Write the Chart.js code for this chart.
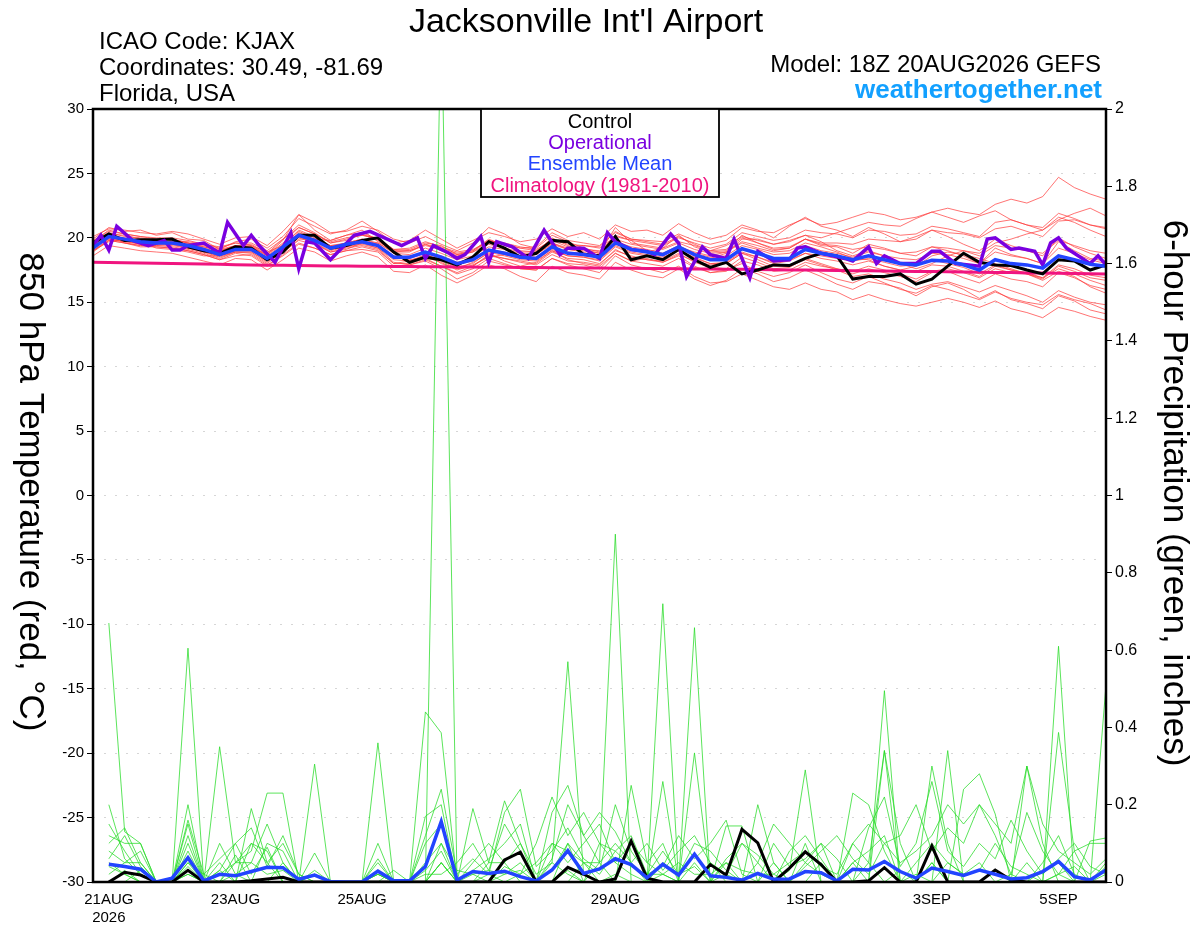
<!DOCTYPE html>
<html><head><meta charset="utf-8">
<script src="https://cdn.jsdelivr.net/npm/chart.js@4.4.1/dist/chart.umd.min.js"></script>
<style>html,body{margin:0;padding:0;background:#fff;}#wrap{width:1200px;height:927px;position:relative;}</style>
</head><body><div id="wrap"><canvas id="c"></canvas></div>
<script>
// x positions are 6-hour steps from 18Z 20AUG2026 (index 0) to 18Z 05SEP2026 (index 64)
const dayTickSteps = [1, 9, 17, 25, 33, 45, 53, 61];
const dayTickLabels = [['21AUG','2026'], '23AUG', '25AUG', '27AUG', '29AUG', '1SEP', '3SEP', '5SEP'];

// Control (black) 850 hPa temperature
const controlTemp = [19.6,20.3,19.8,19.85,19.85, 19.9,19.3,19.0,18.8,19.3, 19.2,18.3,18.9,20.2,20.2, 19.2,19.4,19.8,20.0,18.9,
  18.1,18.5,18.3,17.9,18.5, 19.7,19.2,18.5,18.8,19.8, 19.7,18.7,18.6,20.1,18.3, 18.6,18.3,19.1,18.3,17.7,
  18.1,17.2,17.5,17.9,17.85, 18.4,18.8,18.6,16.8,17.0, 17.0,17.2,16.4,16.8,17.8, 18.8,18.1,17.9,17.85,17.5,
  17.2,18.3,18.2,17.5,17.9];
// Ensemble mean (blue) temperature
const meanTemp = [19.2,20.1,19.9,19.7,19.6, 19.6,19.4,19.1,18.7,19.1, 19.1,18.4,19.3,20.2,19.8, 19.2,19.5,19.7,19.4,18.5,
  18.5,18.9,18.5,18.0,18.3, 19.05,18.8,18.5,18.4,19.3, 18.8,18.7,18.5,19.6,19.1, 18.9,18.7,19.3,18.7,18.3,
  18.3,19.15,18.8,18.4,18.4, 19.1,18.8,18.6,18.3,18.6, 18.3,18.0,17.9,18.25,18.2, 17.9,17.5,18.3,18.0,17.9,
  17.65,18.6,18.3,17.95,17.8];
// Climatology 1981-2010 (pink)
const climoTemp = [18.10,18.08,18.06,18.04,18.02, 18.00,17.98,17.96,17.94,17.92, 17.90,17.88,17.87,17.85,17.84,
  17.82,17.81,17.80,17.79,17.78, 17.77,17.76,17.75,17.74,17.73, 17.72,17.71,17.70,17.69,17.68,
  17.67,17.66,17.65,17.64,17.63, 17.62,17.61,17.60,17.59,17.58, 17.57,17.56,17.54,17.53,17.51,
  17.50,17.48,17.47,17.45,17.44, 17.42,17.41,17.39,17.38,17.36, 17.35,17.33,17.31,17.30,17.28,
  17.27,17.25,17.24,17.22,17.20];
// Operational (purple): 3-hour steps and temperatures
const opSteps3h = [0,1,2,3,5,7,9,10,11,12, 14,16,17,19,20,21,23,25,26,27, 28,30,33,35,39,41,42,43,45,46,
  47,49,50,51,53,55,57,59,60,62, 63,64,65,66,68,70,71,73,74,75, 77,78,80,81,83,84,86,87,88,89,
  90,92,95,96,98,99,100,102,104,106, 107,109,112,113,114,116,117,119,120,121, 122,123,124,126,127,128];
const opTemp = [19.4,20.2,19.05,20.9,19.8,19.4,19.8,19.05,19.05,19.4, 19.6,18.8,21.2,19.4,20.2,19.4,18.1,20.4,17.6,19.7,
  19.6,18.3,20.2,20.5,19.4,20.0,18.4,19.4,18.8,18.4, 18.7,20.1,18.1,19.7,19.3,18.4,20.6,18.7,19.2,19.2,
  18.8,18.4,20.4,19.7,19.1,18.95,18.7,20.3,19.6,17.0, 19.3,18.7,18.4,19.9,16.9,18.95,18.2,18.25,18.3,19.2,
  19.3,18.8,18.4,18.2,19.3,18.0,18.6,18.0,18.0,18.95, 18.95,18.0,17.8,19.9,20.0,19.1,19.2,18.95,17.9,19.6,
  20.0,19.2,18.8,18.0,18.6,17.9];

// Ensemble members (red) temperature
const memT01 = [19.5,20.4,20.1,20.0,19.8, 19.9,19.6,19.2,18.9,19.4, 19.5,18.8,19.9,21.0,20.4, 19.6,19.8,20.3,19.8,18.9,
  18.9,19.5,19.0,18.6,18.9, 19.8,19.5,19.2,19.0,19.9, 19.5,19.4,19.3,20.5,19.9, 19.8,19.7,20.3,19.8,19.5,
  19.8,20.8,20.5,20.4,21.0, 21.5,21.0,21.2,21.6,22.0, 21.8,21.4,21.6,22.0,22.3, 22.0,21.8,22.6,23.0,22.7,
  23.2,24.7,23.9,23.4,23.0];
const memT02 = [18.9,19.8,19.6,19.3,19.3, 19.2,19.0,18.7,18.3,18.6, 18.7,17.9,18.6,19.5,19.2, 18.7,19.0,19.1,18.9,17.8,
  17.9,18.3,17.8,17.2,17.6, 18.4,18.0,17.6,17.5,18.4, 17.9,17.6,17.3,18.6,17.9, 17.6,17.3,17.8,17.0,16.5,
  16.6,17.2,16.7,16.2,16.0, 16.5,16.0,15.8,15.2,15.6, 15.2,14.9,14.7,15.0,15.3, 15.0,14.6,15.1,14.5,14.2,
  13.8,14.6,14.3,13.9,13.6];
const memT03 = [19.6,20.3,20.2,19.9,19.7, 19.7,19.6,19.3,19.0,19.4, 19.3,18.7,19.8,21.8,20.6, 19.8,20.2,20.6,19.7,19.0,
  19.1,19.6,19.4,18.7,19.0, 19.9,19.4,19.0,18.9,20.0, 19.4,19.1,18.8,20.8,19.6, 19.4,19.2,20.2,19.3,18.9,
  19.0,20.2,19.6,19.1,19.2, 19.9,19.4,19.3,18.8,19.5, 19.2,18.8,18.6,19.3,19.0, 18.6,18.0,19.2,18.7,18.4,
  18.0,19.7,19.0,18.4,18.2];
const memT04 = [19.0,19.9,19.7,19.5,19.4, 19.3,19.1,18.8,18.4,18.9, 18.8,18.0,18.9,19.8,19.5, 18.9,19.2,19.4,19.1,18.0,
  18.0,18.4,17.8,17.3,17.8, 18.7,18.4,18.2,18.0,18.9, 18.4,18.3,18.0,19.0,18.6, 18.3,18.2,18.8,18.1,17.7,
  17.6,18.5,18.1,17.6,17.7, 18.4,18.0,17.6,17.2,17.6, 17.3,17.0,16.6,17.3,17.4, 16.9,16.5,17.2,16.8,16.6,
  16.2,17.3,16.9,16.3,16.0];
const memT05 = [19.8,20.5,20.3,20.1,20.0, 20.0,19.8,19.5,19.2,19.6, 19.6,19.0,19.9,20.8,20.3, 19.7,20.0,20.2,19.9,19.1,
  19.2,19.7,19.3,18.9,19.1, 19.7,19.6,19.3,19.1,19.8, 19.3,19.4,19.2,20.1,19.8, 19.6,19.4,20.0,19.6,19.2,
  19.5,20.4,20.1,19.8,20.0, 20.6,20.4,20.3,20.0,20.6, 20.5,20.2,20.3,20.9,20.7, 20.4,20.1,21.2,21.4,21.0,
  20.8,21.9,21.5,21.0,20.7];
const memT06 = [19.3,20.0,19.8,19.6,19.5, 19.4,19.2,18.9,18.5,18.9, 18.9,18.2,19.1,20.0,19.6, 19.0,19.3,19.5,19.2,18.3,
  18.2,18.7,18.3,17.7,18.0, 18.9,18.6,18.3,18.2,19.0, 18.6,18.5,18.3,19.4,18.9, 18.7,18.5,19.0,18.4,18.0,
  18.1,18.9,18.5,18.0,18.2, 18.8,18.4,18.2,17.9,18.2, 17.8,17.5,17.4,17.9,17.8, 17.4,17.0,17.8,17.5,17.2,
  16.8,17.8,17.4,16.9,16.7];
const memT07 = [19.1,20.1,19.9,19.8,19.6, 19.5,19.3,18.9,18.6,18.9, 18.9,18.1,19.0,20.2,19.9, 19.1,19.3,19.6,19.2,18.1,
  17.9,18.2,17.6,16.8,17.3, 18.2,17.9,17.6,17.5,18.4, 18.0,17.9,17.6,18.8,18.2, 18.0,17.8,18.4,17.7,17.3,
  17.4,18.2,17.9,17.4,17.5, 18.1,17.8,17.6,17.4,17.8, 17.5,17.2,16.8,17.4,17.6, 17.3,16.9,17.6,17.3,17.2,
  16.9,17.9,17.6,17.1,16.9];
const memT08 = [19.4,20.2,20.0,19.7,19.6, 19.7,19.5,19.3,19.0,19.3, 19.4,18.7,19.6,20.8,20.3, 19.6,19.9,20.2,20.0,19.1,
  19.0,19.5,19.2,18.8,19.0, 19.8,19.5,19.2,19.3,20.4, 19.8,19.6,19.4,20.4,19.9, 19.7,19.5,20.1,19.5,19.0,
  19.1,20.0,19.6,19.2,19.3, 19.9,19.5,19.4,19.1,19.3, 19.1,18.8,18.9,19.3,19.2, 19.0,18.6,19.4,19.2,19.0,
  18.8,19.8,19.4,19.0,18.8];
const memT09 = [19.0,19.8,19.6,19.4,19.3, 19.2,19.0,18.7,18.3,18.8, 18.6,17.8,18.7,19.6,19.2, 18.7,19.0,19.3,19.0,18.0,
  18.2,18.6,18.2,17.6,17.8, 18.6,18.4,18.1,17.9,18.7, 18.2,18.1,17.9,19.1,18.5, 18.3,18.1,18.7,18.2,17.9,
  18.0,18.8,18.5,18.1,18.3, 18.8,18.6,18.4,18.2,18.4, 18.1,17.8,17.9,18.3,18.0, 17.7,17.2,17.9,17.5,17.3,
  16.9,17.6,17.2,16.7,16.3];
const memT10 = [19.2,20.0,19.8,19.5,19.4, 19.5,19.2,19.0,18.7,19.0, 19.0,18.3,19.1,20.1,19.7, 19.2,19.5,19.7,19.4,18.5,
  18.4,18.8,18.4,17.9,18.2, 19.0,18.7,18.4,18.3,19.1, 18.6,18.5,18.2,19.3,18.8, 18.6,18.4,19.0,18.5,18.0,
  18.0,18.8,18.3,17.8,17.8, 18.3,17.9,17.5,17.0,17.2, 16.8,16.5,16.0,16.4,16.6, 16.2,15.8,16.3,15.9,15.5,
  15.0,15.9,15.4,15.0,14.8];
const memT11 = [19.7,20.6,20.3,20.1,19.9, 19.9,19.6,19.4,19.1,19.4, 19.3,18.6,19.5,20.5,20.0, 19.3,19.6,19.9,19.6,18.8,
  18.7,19.2,18.8,18.3,18.6, 19.3,19.1,18.8,18.7,19.6, 19.1,19.0,18.8,19.9,19.5, 19.3,19.1,19.6,19.1,18.8,
  18.9,19.7,19.4,19.0,19.2, 19.9,19.6,19.6,19.5,19.9, 19.8,19.7,20.1,20.6,20.4, 20.3,20.0,20.7,20.9,20.5,
  20.1,21.3,21.4,21.0,20.8];
const memT12 = [19.5,20.1,19.9,19.8,19.7, 19.6,19.4,19.1,18.8,19.2, 19.1,18.5,19.3,20.4,19.9, 19.4,19.6,19.9,19.5,18.6,
  18.5,18.9,18.6,18.1,18.4, 19.1,18.9,18.6,18.5,19.3, 18.9,18.8,18.6,19.7,19.3, 19.1,18.8,19.4,18.8,18.5,
  18.6,19.4,19.1,18.7,18.8, 19.4,19.0,18.8,18.5,18.9, 18.6,18.4,18.3,18.8,18.7, 18.4,18.0,18.9,18.6,18.4,
  18.0,19.2,18.8,18.3,18.0];
const memT13 = [19.9,20.8,20.5,20.6,20.2, 20.4,19.9,19.8,19.1,19.7, 19.9,19.2,20.1,21.5,20.9, 20.3,20.6,21.3,20.5,19.6,
  19.8,20.6,19.9,19.2,19.8, 20.4,20.1,19.7,19.9,20.7, 20.1,20.4,19.9,21.0,20.5, 20.6,20.2,21.1,20.4,19.9,
  20.2,21.0,20.6,20.0,20.9, 21.6,20.9,20.6,20.1,20.8, 20.3,19.7,19.9,20.6,20.1, 19.5,19.0,19.9,19.4,19.0,
  18.6,20.0,19.3,18.8,18.4];
const memT14 = [18.6,19.4,19.2,19.0,18.9, 18.8,18.5,18.2,17.9,18.4, 18.3,17.5,18.3,19.2,18.9, 18.2,18.6,18.9,18.5,17.4,
  17.3,17.9,17.1,16.5,17.1, 17.9,17.6,17.0,16.6,17.8, 17.3,17.1,16.8,18.1,17.5, 17.1,16.9,17.6,16.8,16.3,
  16.7,17.6,17.2,16.6,16.9, 17.5,17.0,16.4,16.0,16.6, 16.4,16.1,15.5,16.2,16.5, 16.0,15.3,15.9,15.2,14.9,
  14.5,15.5,15.1,14.4,14.1];
const memT15 = [20.1,20.7,20.6,20.4,20.3, 20.5,20.3,19.9,19.5,20.0, 20.1,19.4,20.5,21.8,21.2, 20.4,20.5,20.9,20.6,19.9,
  19.6,20.1,19.5,19.0,19.6, 20.8,20.3,19.5,19.2,20.2, 19.7,19.2,18.9,20.2,19.8, 19.0,18.6,19.2,18.6,18.4,
  18.8,19.9,19.9,19.5,19.7, 20.2,20.0,20.4,20.8,21.2, 21.0,20.9,21.5,22.0,21.6, 21.2,21.7,22.1,21.4,21.0,
  20.6,21.4,21.9,22.3,21.7];
const memT16 = [19.3,19.9,19.7,19.6,19.6, 19.7,19.5,19.0,18.6,19.1, 19.2,18.4,19.4,20.6,20.1, 19.4,19.5,19.7,19.5,18.4,
  18.6,18.8,18.0,17.6,18.1, 18.8,18.2,17.8,18.1,19.0, 18.3,18.0,17.8,18.8,18.2, 18.4,18.1,18.6,17.8,17.3,
  17.5,18.0,17.4,17.0,17.3, 17.9,17.3,16.8,16.5,17.0, 16.5,16.0,15.7,16.3,16.0, 15.6,15.2,15.8,15.3,15.0,
  14.8,15.6,15.2,14.9,14.4];
const memT17 = [19.0,19.7,19.9,19.7,19.2, 19.1,18.9,18.6,18.6,19.0, 19.3,18.6,18.8,19.9,19.9, 19.8,20.2,20.4,19.9,18.8,
  18.3,18.5,18.1,17.5,17.9, 18.5,18.7,18.5,18.7,19.5, 19.1,18.9,18.4,19.6,19.1, 18.9,19.2,19.7,19.4,19.0,
  19.4,20.1,19.8,19.5,19.8, 20.2,19.7,19.0,18.6,19.0, 18.6,18.0,17.6,18.0,18.6, 19.0,18.8,19.6,19.9,20.3,
  20.6,21.6,21.2,20.6,20.1];
const memT18 = [19.7,20.2,19.6,19.4,19.5, 19.8,19.7,19.5,19.3,19.6, 19.4,18.9,19.4,20.1,19.6, 18.9,19.1,19.6,19.6,18.9,
  19.0,19.4,19.1,18.7,18.9, 19.5,19.2,18.9,18.9,19.6, 19.2,19.1,19.0,19.8,19.2, 18.9,18.7,19.3,18.9,18.6,
  18.9,19.6,19.2,18.9,19.0, 19.6,19.3,18.9,18.4,18.3, 17.8,17.5,17.8,18.6,18.9, 18.7,18.4,18.0,17.6,17.2,
  16.7,17.4,17.0,16.2,15.7];
const memberTemps = [memT01,memT02,memT03,memT04,memT05,memT06,memT07,memT08,memT09,memT10,memT11,memT12,
  memT13,memT14,memT15,memT16,memT17,memT18];

// 6-hour precipitation (inches); no value at the initial time
const controlPrecip = [null,0,0.025,0.018,0, 0,0.03,0,0,0, 0.003,0.008,0.012,0,0, 0,0,0,0,0,
  0,0,0,0,0, 0,0.057,0.077,0,0, 0.038,0.02,0,0.008,0.106, 0.01,0,0,0,0.045,
  0.018,0.136,0.101,0,0.036, 0.078,0.045,0,0,0.003, 0.037,0,0,0.093,0, 0,0,0.031,0.005,0,
  0,0,0,0,0];
const meanPrecip = [null,0.046,0.04,0.033,0, 0.01,0.063,0.003,0.02,0.016, 0.027,0.038,0.037,0.007,0.018, 0.001,0,0,0.028,0.003,
  0.003,0.04,0.156,0.005,0.027, 0.022,0.028,0.014,0.003,0.031, 0.081,0.022,0.034,0.06,0.045, 0.011,0.046,0.018,0.072,0.016,
  0.012,0.005,0.022,0.007,0.008, 0.027,0.024,0.003,0.033,0.031, 0.053,0.027,0.01,0.036,0.027, 0.017,0.031,0.02,0.008,0.011,
  0.027,0.053,0.014,0.005,0.031];
const memP01 = [null,0.67,0.13,0.10,0,0, 0.04,0,0,0.02,0.05, 0.15,0.05,0,0,0, 0,0,0.02,0,0, 0,0.05,0,0,0,
  0,0,0,0.18,0.25, 0.12,0.18,0.13,0.05,0, 0.02,0,0,0,0, 0,0,0,0,0.05, 0.02,0,0,0,0, 0,0.02,0,0,0,
  0,0,0,0,0.03, 0.05,0,0,0];
const memP02 = [null,0.02,0.05,0.08,0,0, 0.605,0,0,0,0, 0,0,0,0.02,0, 0,0,0,0,0, 0,2.28,0,0,0,
  0.02,0.05,0,0,0.03, 0,0,0,0.25,0.05, 0.02,0,0.05,0,0, 0,0.2,0.05,0,0, 0,0,0.05,0,0, 0,0,0.3,0.1,0,
  0,0,0,0.05,0, 0.02,0,0,0.05];
const memP03 = [null,0.15,0.08,0.02,0,0, 0.12,0,0.35,0.05,0.08, 0.23,0.23,0,0.03,0, 0,0,0.1,0,0, 0.17,0.2,0,0.19,0.05,
  0.21,0.1,0.02,0.05,0.57, 0.02,0,0,0,0, 0.26,0,0,0,0.145, 0.145,0,0,0,0, 0,0,0.23,0.2,0.08, 0,0,0.05,0,0,
  0,0.03,0,0,0, 0,0,0,0];
const memP04 = [null,0.1,0.14,0.05,0,0, 0.1,0,0,0,0.19, 0.05,0,0,0.305,0, 0,0,0,0,0, 0.05,0.1,0,0,0,
  0,0.02,0.05,0.1,0.08, 0.05,0.05,0.9,0,0, 0,0,0,0.05,0, 0,0,0,0.03,0.29, 0,0,0,0,0, 0,0,0.05,0,0.24,
  0.28,0.176,0,0,0, 0,0,0,0];
const memP05 = [null,0,0.03,0,0,0, 0.08,0,0,0.07,0, 0,0,0,0.075,0, 0,0,0.36,0,0, 0,0.05,0,0,0.02,
  0,0,0,0,0.1, 0,0.05,0,0,0, 0.72,0,0,0,0.05, 0,0,0,0,0, 0.05,0,0,0,0.34, 0,0,0,0.34,0,
  0,0,0,0.3,0.1, 0,0,0.106,0.114];
const memP06 = [null,0.05,0.02,0,0,0, 0.2,0,0.05,0,0, 0,0.05,0,0,0, 0,0,0.05,0,0, 0.44,0.386,0,0.05,0.1,
  0.05,0,0,0,0, 0.05,0,0.02,0,0, 0,0,0.658,0,0, 0,0,0,0,0, 0,0,0,0,0.495, 0,0,0,0,0,
  0,0,0,0,0, 0.61,0,0,0];
const memP07 = [null,0.08,0.05,0.05,0,0, 0.15,0,0.03,0,0.1, 0.08,0,0,0,0, 0,0,0.02,0,0, 0.1,0.15,0,0.03,0.06,
  0.1,0.15,0,0.05,0.02, 0,0.1,0.05,0.1,0.05, 0.1,0,0.334,0,0.02, 0,0,0.05,0,0.1, 0,0,0,0.05,0.34, 0.1,0,0,0,0,
  0,0,0,0,0, 0.387,0.08,0,0.51];
const memP08 = [null,0.04,0.02,0,0,0, 0.05,0.02,0,0.05,0.1, 0.05,0.1,0.02,0,0, 0,0,0,0.03,0, 0.02,0.02,0.05,0.1,0.03,
  0.15,0.08,0,0.06,0.2, 0.12,0.05,0.1,0.05,0.1, 0.03,0.08,0.12,0.05,0.02, 0.1,0.05,0,0.08,0.12, 0.06,0,0.1,0.05,0,
  0.03,0,0,0.05,0.02, 0.03,0.1,0.04,0.02,0, 0.02,0.04,0,0.02];
const memP09 = [null,0.12,0.1,0.1,0,0, 0.02,0,0.1,0.02,0, 0.1,0.08,0,0,0, 0,0,0,0,0, 0,0.05,0,0,0.05,
  0.05,0.1,0,0.1,0.05, 0.1,0.15,0.05,0.02,0, 0.05,0.02,0.1,0.08,0.03, 0,0.05,0.15,0.1,0.05, 0.1,0,0.05,0.08,0.12,
  0,0.05,0.1,0.05,0.02, 0.05,0,0.02,0,0.05, 0.12,0.02,0,0.04];
const memP10 = [null,0,0,0.03,0,0, 0.05,0,0.02,0.05,0.05, 0.02,0.03,0,0,0, 0,0,0.03,0,0, 0.03,0.08,0,0.02,0.03,
  0.02,0.03,0,0.03,0.1, 0.05,0.02,0.08,0.12,0.02, 0.02,0.05,0.02,0.02,0.05, 0.03,0.02,0.02,0.05,0.08, 0.04,0.02,0.1,0.15,0.1,
  0.05,0.08,0.12,0.2,0.15, 0.2,0.15,0.1,0.3,0.15, 0.08,0.05,0.02,0.06];
const memP11 = [null,0.06,0.12,0.04,0,0, 0.16,0.02,0.06,0.1,0.14, 0.04,0.12,0.02,0,0, 0,0,0.06,0,0, 0.12,0.24,0.02,0.06,0.02,
  0.18,0.24,0.04,0.08,0.14, 0.06,0.03,0.2,0.08,0.02, 0.04,0.12,0.06,0.1,0.16, 0.02,0,0.1,0.04,0.06, 0.1,0.06,0,0.14,0.22,
  0.04,0.1,0.26,0.08,0.04, 0.1,0.06,0.16,0.08,0.02, 0.06,0.1,0.04,0.02];
const memP12 = [null,0.2,0.06,0.02,0,0, 0.02,0,0.03,0.1,0.02, 0.09,0,0,0.02,0, 0,0,0.02,0,0, 0,0.1,0.03,0.02,0,
  0.04,0.02,0.1,0.22,0.12, 0.18,0.1,0.08,0.04,0.02, 0.08,0.02,0.04,0,0.06, 0.1,0.07,0.02,0,0.04, 0.08,0.12,0.06,0.02,0.1,
  0.12,0.2,0.08,0.14,0.1, 0.2,0.12,0.02,0.18,0.08, 0.02,0.08,0.1,0.1];
const memberPrecips = [memP01,memP02,memP03,memP04,memP05,memP06,memP07,memP08,memP09,memP10,memP11,memP12];

const FONT = '"Liberation Sans", Arial, Helvetica, sans-serif';
Chart.defaults.font.family = FONT;
Chart.defaults.color = '#000';

const toXY = arr => arr.map((v, i) => ({x: i, y: v}));
const line = (data, axis, color, width, order) => ({
  data, yAxisID: axis, borderColor: color, borderWidth: width, order,
  pointRadius: 0, tension: 0, fill: false, spanGaps: false
});

const datasets = [];
memberTemps.forEach(m => datasets.push(line(toXY(m), 'yT', 'rgba(255,60,60,0.8)', 0.9, 20)));
memberPrecips.forEach(m => datasets.push(line(toXY(m), 'yP', 'rgba(40,220,40,0.85)', 0.9, 15)));
datasets.push(line(toXY(climoTemp), 'yT', '#f0147f', 3, 8));
datasets.push(line(toXY(controlPrecip), 'yP', '#000', 3, 6));
datasets.push(line(toXY(controlTemp), 'yT', '#000', 3, 5));
datasets.push(line(opSteps3h.map((s, k) => ({x: s / 2, y: opTemp[k]})), 'yT', '#7a00e0', 3.5, 3));
datasets.push(line(toXY(meanPrecip), 'yP', '#2244ff', 3.5, 1));
datasets.push(line(toXY(meanTemp), 'yT', '#2244ff', 3.5, 0));

const deco = {
  id: 'deco',
  beforeDraw(chart) {
    const c = chart.ctx;
    c.save(); c.fillStyle = '#fff'; c.fillRect(0, 0, chart.width, chart.height); c.restore();
  },
  afterDatasetsDraw(chart) {
    const c = chart.ctx, a = chart.chartArea;
    c.save();
    c.strokeStyle = '#000'; c.lineWidth = 2.5;
    c.strokeRect(a.left, a.top, a.right - a.left, a.bottom - a.top);
    c.restore();
  },
  afterDraw(chart) {
    const c = chart.ctx;
    c.save();
    c.fillStyle = '#000';
    c.textBaseline = 'alphabetic';
    c.textAlign = 'center';
    c.font = '34px ' + FONT;
    c.fillText("Jacksonville Int'l Airport", 586, 32);
    c.textAlign = 'left';
    c.font = '24px ' + FONT;
    c.fillText('ICAO Code: KJAX', 99, 49);
    c.fillText('Coordinates: 30.49, -81.69', 99, 75);
    c.fillText('Florida, USA', 99, 101);
    c.textAlign = 'right';
    c.fillText('Model: 18Z 20AUG2026 GEFS', 1101, 72);
    c.font = 'bold 26px ' + FONT;
    c.fillStyle = '#12a0ff';
    c.fillText('weathertogether.net', 1102, 98);
    // legend box
    c.fillStyle = '#fff';
    c.fillRect(481, 109, 238, 88);
    c.strokeStyle = '#000'; c.lineWidth = 1.8;
    c.strokeRect(481, 109, 238, 88);
    c.textAlign = 'center';
    c.font = '20px ' + FONT;
    const leg = [['Control', '#000', 128], ['Operational', '#7a00e0', 149], ['Ensemble Mean', '#2244ff', 170], ['Climatology (1981-2010)', '#f0147f', 192]];
    leg.forEach(([t, col, y]) => { c.fillStyle = col; c.fillText(t, 600, y); });
    // axis titles
    c.fillStyle = '#000';
    c.font = '35px ' + FONT;
    c.textBaseline = 'middle';
    c.save(); c.translate(30, 492); c.rotate(Math.PI / 2); c.fillText('850 hPa Temperature (red, \u00B0C)', 0, 0); c.restore();
    c.save(); c.translate(1174, 493); c.rotate(Math.PI / 2); c.fillText('6-hour Precipitation (green, inches)', 0, 0); c.restore();
    c.restore();
  }
};

new Chart(document.getElementById('c'), {
  type: 'line',
  data: { datasets },
  options: {
    responsive: true, maintainAspectRatio: false, animation: false,
    layout: { padding: { top: 109, left: 0, right: 0, bottom: 0 }, autoPadding: false },
    plugins: { legend: { display: false }, tooltip: { enabled: false }, title: { display: false } },
    scales: {
      x: {
        type: 'linear', min: 0, max: 64,
        grid: { display: false },
        border: { display: false },
        afterFit: s => { s.height = 45; },
        afterBuildTicks: s => { s.ticks = dayTickSteps.map(v => ({ value: v })); },
        ticks: {
          autoSkip: false, maxRotation: 0, padding: 1,
          font: { size: 15 },
          callback: v => { const k = dayTickSteps.indexOf(v); return k >= 0 ? dayTickLabels[k] : ''; }
        }
      },
      yT: {
        type: 'linear', position: 'left', min: -30, max: 30,
        afterFit: s => { s.width = 93; },
        grid: { display: true, drawOnChartArea: true, color: '#d6d6d6', lineWidth: 1, tickColor: '#000', tickLength: 6, tickWidth: 1 },
        border: { display: false, dash: [2, 9] },
        ticks: { stepSize: 5, font: { size: 15 }, padding: 3, callback: v => String(v) }
      },
      yP: {
        type: 'linear', position: 'right', min: 0, max: 2,
        afterFit: s => { s.width = 94; },
        grid: { display: true, drawOnChartArea: false, tickColor: '#000', tickLength: 6, tickWidth: 1 },
        border: { display: false },
        ticks: { stepSize: 0.2, font: { size: 16 }, padding: 3, callback: v => String(+v.toFixed(1)) }
      }
    }
  },
  plugins: [deco]
});
</script>
</body></html>
